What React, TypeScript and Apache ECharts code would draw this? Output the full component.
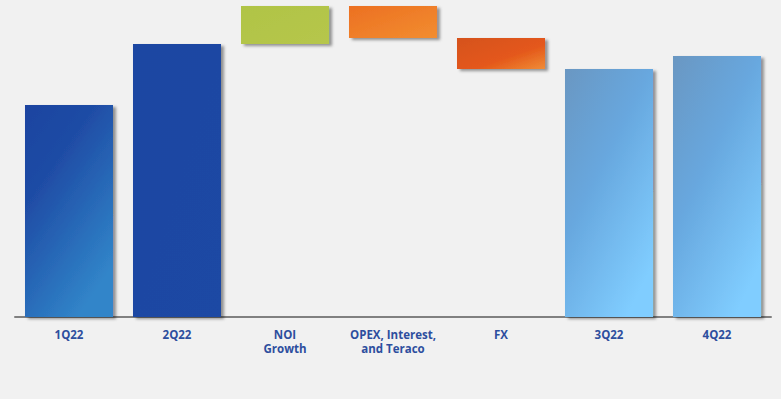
import React, { useEffect, useRef } from "react";
import * as echarts from "echarts";

const categories = ["1Q22", "2Q22", "NOI\nGrowth", "OPEX, Interest,\nand Teraco", "FX", "3Q22", "4Q22"];
const totals: (number | null)[] = [2.12, 2.73, null, null, null, 2.48, 2.61];
const changes: (number | null)[] = [null, null, 0.38, -0.32, -0.31, null, null];

const lin = (stops: [number, string][], x2 = 1, y2 = 1) => ({
  type: "linear",
  x: 0,
  y: 0,
  x2,
  y2,
  colorStops: stops.map(([offset, color]) => ({ offset, color })),
});

const fills = [
  lin([[0, "#1c43a0"], [0.35, "#1f4ca5"], [1, "#3185c9"]], 0.6, 1),
  lin([[0, "#1d46a2"], [1, "#1e48a4"]]),
  lin([[0, "#b0c445"], [1, "#b6c64c"]]),
  lin([[0, "#ec7022"], [1, "#f28d30"]]),
  lin([[0, "#d5521a"], [0.6, "#e4581a"], [1, "#f08c36"]]),
  lin([[0, "#6a97c2"], [0.45, "#67a7de"], [1, "#80cdff"]], 0.7, 1),
  lin([[0, "#6a97c2"], [0.45, "#67a7de"], [1, "#80cdff"]], 0.7, 1),
];

export default function App() {
  const ref = useRef<HTMLDivElement>(null);
  useEffect(() => {
    document.body.style.margin = "0";
    document.body.style.background = "#f1f1f1";
    const chart = echarts.init(ref.current!, null, { renderer: "svg" });
    let running = 0;
    const base: number[] = [];
    const heights: number[] = [];
    categories.forEach((_, i) => {
      const t = totals[i];
      const c = changes[i];
      if (t != null) {
        base.push(0);
        heights.push(t);
        running = t;
      } else if (c != null) {
        const next = +(running + c).toFixed(4);
        base.push(Math.min(running, next));
        heights.push(Math.abs(c));
        running = next;
      } else {
        base.push(0);
        heights.push(0);
      }
    });
    chart.setOption({
      animation: false,
      backgroundColor: "#f1f1f1",
      grid: { left: 15, right: 10, top: 6, bottom: 82 },
      xAxis: {
        type: "category",
        data: categories,
        axisLine: { lineStyle: { color: "#808080", width: 2 } },
        axisTick: { show: false },
        axisLabel: {
          interval: 0,
          color: "#2d4e9e",
          fontFamily: "Open Sans",
          fontWeight: "bold",
          fontSize: 11.5,
          lineHeight: 14,
          margin: 10,
        },
      },
      yAxis: { type: "value", min: 0, max: 3.11, show: false, splitLine: { show: false } },
      series: [
        {
          type: "bar",
          stack: "w",
          data: base,
          barCategoryGap: "18.5%",
          itemStyle: { color: "transparent" },
          silent: true,
        },
        {
          type: "bar",
          stack: "w",
          data: heights.map((v, i) => ({
            value: v,
            itemStyle: {
              color: fills[i],
              shadowColor: "rgba(0,0,0,0.4)",
              shadowBlur: 3,
              shadowOffsetX: 3,
              shadowOffsetY: 2,
            },
          })),
          barCategoryGap: "18.5%",
        },
      ],
    });
    return () => chart.dispose();
  }, []);
  return <div ref={ref} style={{ width: 781, height: 399 }} />;
}
